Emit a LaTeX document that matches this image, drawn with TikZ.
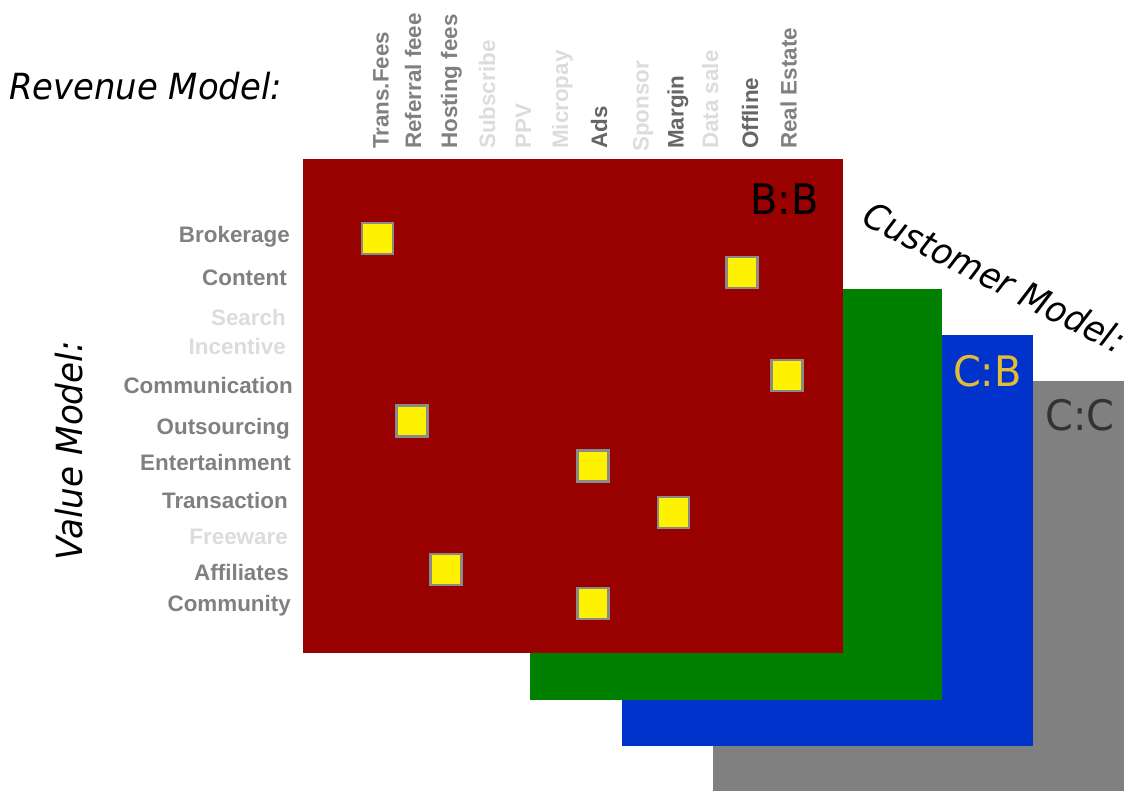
\documentclass[tikz,border=0pt]{standalone}
\usepackage{fontspec}
\setmainfont{Liberation Sans}
\newfontfamily\dejavu{DejaVu Sans}
\definecolor{bbred}{HTML}{990000}
\definecolor{cbgreen}{HTML}{008000}
\definecolor{cbblue}{HTML}{0033CC}
\definecolor{ccgray}{HTML}{808080}
\definecolor{labmid}{HTML}{808080}
\definecolor{labdark}{HTML}{666666}
\definecolor{lablight}{HTML}{DCDCDC}
\definecolor{cbgold}{HTML}{E2BC36}
\definecolor{ccdark}{HTML}{333333}
\definecolor{cellframe}{HTML}{8A8A8A}
\begin{document}
\begin{tikzpicture}[x=1pt,y=-1pt,
  lab/.style={inner sep=0pt,font=\bfseries\fontsize{22.4}{26}\selectfont},
  rowlab/.style={lab,anchor=base east},
  collab/.style={lab,rotate=90,anchor=base west},
  title/.style={inner sep=0pt,font=\dejavu\itshape\fontsize{36}{40}\selectfont},
  sheetlab/.style={inner sep=0pt,anchor=base east,font=\dejavu\fontsize{42}{46}\selectfont},
  cell/.style={draw=cellframe,line width=2.5pt,fill=yellow,minimum size=31pt,inner sep=0pt}]
\useasboundingbox (0,0) rectangle (1135,791);

% stacked customer-model sheets, back to front
\fill[ccgray] (713,381) rectangle (1124,791);
\fill[cbblue] (622,335) rectangle (1033,746);
\fill[cbgreen] (530,289) rectangle (942,700);
\fill[bbred] (303,159) rectangle (843,653);

\node[sheetlab,text=ccdark] (cc) at (1115,430) {\scalebox{0.95}[1]{C:C}};
\node[sheetlab,text=cbgold] (cb) at (1022,387) {\scalebox{0.95}[1]{C:B}};
\node[sheetlab,text=black] (bb) at (819,215) {\scalebox{0.95}[1]{B:B}};

% axis titles
\node[title,anchor=base west] (revenue) at (9,100) {\scalebox{0.94}[1]{Revenue Model:}};
\node[title,anchor=base,rotate=90] (value) at (82,451) {\scalebox{0.95}[1]{Value Model:}};
\node[title,anchor=center,rotate=-27] (customer) at (995,277) {\scalebox{0.94}[1]{Customer Model:}};

% revenue columns
\node[collab,text=labmid]   (c1)  at (388.5,149) {Trans.Fees};
\node[collab,text=labmid]   (c2)  at (421,149) {Referral feee};
\node[collab,text=labmid]   (c3)  at (457,149) {Hosting fees};
\node[collab,text=lablight] (c4)  at (495,149) {Subscribe};
\node[collab,text=lablight] (c5)  at (531,149) {PPV};
\node[collab,text=lablight] (c6)  at (568,149) {Micropay};
\node[collab,text=labdark]  (c7)  at (607,149) {Ads};
\node[collab,text=lablight] (c8)  at (648.5,152) {Sponsor};
\node[collab,text=labdark]  (c9)  at (683.5,149) {Margin};
\node[collab,text=lablight] (c10) at (718,149) {Data sale};
\node[collab,text=labdark]  (c11) at (758,149) {Offline};
\node[collab,text=labmid]   (c12) at (796.5,149) {Real Estate};

% value rows
\node[rowlab,text=labmid]   (r1)  at (290,243) {Brokerage};
\node[rowlab,text=labmid]   (r2)  at (287,286) {Content};
\node[rowlab,text=lablight] (r3)  at (286,326) {Search};
\node[rowlab,text=lablight] (r4)  at (286,355) {Incentive};
\node[rowlab,text=labmid]   (r5)  at (293,394) {Communication};
\node[rowlab,text=labmid]   (r6)  at (290,434) {Outsourcing};
\node[rowlab,text=labmid]   (r7)  at (291,470) {Entertainment};
\node[rowlab,text=labmid]   (r8)  at (288,508) {Transaction};
\node[rowlab,text=lablight] (r9)  at (288,544) {Freeware};
\node[rowlab,text=labmid]   (r10) at (289,580) {Affiliates};
\node[rowlab,text=labmid]   (r11) at (291,611) {Community};

% marked combinations
\node[cell] (m1) at (377.5,238.5) {};
\node[cell] (m2) at (742,272.5) {};
\node[cell] (m3) at (787,375.5) {};
\node[cell] (m4) at (412,421) {};
\node[cell] (m5) at (593,466) {};
\node[cell] (m6) at (673.5,512.5) {};
\node[cell] (m7) at (446,569.5) {};
\node[cell] (m8) at (593,603.5) {};
\end{tikzpicture}
\end{document}
